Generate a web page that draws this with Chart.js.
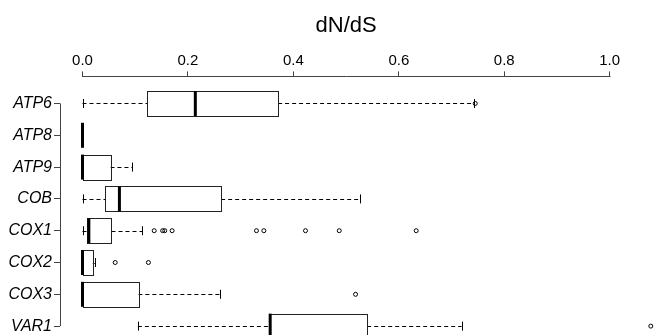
<!DOCTYPE html>
<html>
<head>
<meta charset="utf-8">
<script src="https://cdn.jsdelivr.net/npm/chart.js@4.4.1/dist/chart.umd.min.js"></script>
<style>
  html, body { margin: 0; padding: 0; background: #fff; overflow: hidden; }
  #wrap { width: 659px; height: 335px; overflow: hidden; }
</style>
</head>
<body>
<div id="wrap"><canvas id="c" width="659" height="360"></canvas></div>
<script>
// ---- data ----
const categories  = ['ATP6', 'ATP8', 'ATP9', 'COB', 'COX1', 'COX2', 'COX3', 'VAR1'];
const whiskerLow  = [0.000, 0.000, 0.000, 0.000, 0.000, 0.000, 0.000, 0.105];
const q1          = [0.123, 0.000, 0.000, 0.043, 0.009, 0.000, 0.000, 0.354];
const medians     = [0.214, 0.000, 0.000, 0.070, 0.012, 0.000, 0.000, 0.356];
const q3          = [0.371, 0.000, 0.053, 0.263, 0.055, 0.019, 0.106, 0.540];
const whiskerHigh = [0.743, 0.000, 0.094, 0.527, 0.113, 0.023, 0.260, 0.719];
const outliersATP6 = [0.745];
const outliersCOX1 = [0.136, 0.152, 0.156, 0.170, 0.330, 0.344, 0.423, 0.487, 0.633];
const outliersCOX2 = [0.062, 0.125];
const outliersCOX3 = [0.518];
const outliersVAR1 = [1.078];
const xTicks = [0.0, 0.2, 0.4, 0.6, 0.8, 1.0];
const axisTitle = 'dN/dS';

// ---- build scatter data for outliers ----
const outlierSets = {ATP6: outliersATP6, COX1: outliersCOX1, COX2: outliersCOX2, COX3: outliersCOX3, VAR1: outliersVAR1};
const outlierPoints = [];
categories.forEach((c, i) => {
  (outlierSets[c] || []).forEach(v => outlierPoints.push({x: v, y: i + 1}));
});

const FONT = '"Liberation Sans", Arial, Helvetica, sans-serif';
const BOX_HALF = 12.5;
const CAP_HALF = 4.5;

const boxPlugin = {
  id: 'boxes',
  beforeDatasetsDraw(chart) {
    const ctx = chart.ctx;
    const xs = chart.scales.x, ys = chart.scales.y;
    const ca = chart.chartArea;
    ctx.save();
    // axis lines (R style: from first to last tick)
    ctx.strokeStyle = '#444';
    ctx.lineWidth = 1;
    ctx.beginPath();
    ctx.moveTo(Math.round(xs.getPixelForValue(xTicks[0])) - 0.5, Math.round(ca.top) - 0.5);
    ctx.lineTo(Math.round(xs.getPixelForValue(xTicks[xTicks.length - 1])) + 0.5, Math.round(ca.top) - 0.5);
    ctx.stroke();
    ctx.beginPath();
    ctx.moveTo(Math.round(ca.left) + 0.5, ys.getPixelForValue(1));
    ctx.lineTo(Math.round(ca.left) + 0.5, ys.getPixelForValue(categories.length));
    ctx.stroke();

    categories.forEach((c, i) => {
      const y = ys.getPixelForValue(i + 1);
      const xl = xs.getPixelForValue(whiskerLow[i]);
      const x1 = xs.getPixelForValue(q1[i]);
      const xm = xs.getPixelForValue(medians[i]);
      const x3 = xs.getPixelForValue(q3[i]);
      const xh = xs.getPixelForValue(whiskerHigh[i]);
      const yy = Math.round(y) + 0.5;
      // whiskers
      ctx.strokeStyle = '#000';
      ctx.lineWidth = 1;
      ctx.setLineDash([4, 3]);
      if (x1 - xl > 0.5) { ctx.beginPath(); ctx.moveTo(xl, yy); ctx.lineTo(x1, yy); ctx.stroke(); }
      if (xh - x3 > 0.5) { ctx.beginPath(); ctx.moveTo(x3, yy); ctx.lineTo(xh, yy); ctx.stroke(); }
      ctx.setLineDash([]);
      // caps
      if (xh - xl > 0.5) {
        [xl, xh].forEach(x => {
          ctx.beginPath();
          ctx.moveTo(Math.round(x) + 0.5, y - CAP_HALF);
          ctx.lineTo(Math.round(x) + 0.5, y + CAP_HALF);
          ctx.stroke();
        });
      }
      // box
      if (x3 - x1 > 0.5) {
        ctx.fillStyle = '#fff';
        ctx.fillRect(x1, y - BOX_HALF, x3 - x1, BOX_HALF * 2);
        ctx.strokeStyle = '#222';
        ctx.strokeRect(Math.round(x1) + 0.5, Math.round(y - BOX_HALF) + 0.5, Math.round(x3 - x1), Math.round(BOX_HALF * 2));
      }
      // median
      ctx.strokeStyle = '#000';
      ctx.lineWidth = 3;
      ctx.beginPath();
      ctx.moveTo(xm, y - BOX_HALF);
      ctx.lineTo(xm, y + BOX_HALF);
      ctx.stroke();
    });
    ctx.restore();
  },
  afterDraw(chart) {
    const ctx = chart.ctx;
    const xs = chart.scales.x;
    ctx.save();
    ctx.fillStyle = '#000';
    ctx.font = '22px ' + FONT;
    ctx.textAlign = 'center';
    ctx.textBaseline = 'alphabetic';
    const cx = (xs.getPixelForValue(xTicks[0]) + xs.getPixelForValue(xTicks[xTicks.length - 1])) / 2;
    ctx.fillText(axisTitle, cx, 32);
    ctx.restore();
  }
};

new Chart(document.getElementById('c'), {
  type: 'scatter',
  data: {
    datasets: [{
      data: outlierPoints,
      pointRadius: 2,
      pointBorderWidth: 1,
      borderColor: '#000',
      backgroundColor: 'rgba(0,0,0,0)',
      pointStyle: 'circle',
      clip: false
    }]
  },
  options: {
    responsive: false,
    animation: false,
    layout: { padding: { top: 0, left: 0, right: 0, bottom: 7.8 } },
    plugins: { legend: { display: false }, tooltip: { enabled: false }, title: { display: false } },
    scales: {
      x: {
        type: 'linear',
        position: 'top',
        min: -0.0427,
        max: 1.0841,
        afterBuildTicks: s => { s.ticks = xTicks.map(v => ({value: v})); },
        afterFit: s => { s.height = 77.4; s.paddingLeft = 0; s.paddingRight = 0; s.paddingTop = 0; s.paddingBottom = 0; },
        ticks: {
          callback: v => Number(v).toFixed(1),
          color: '#000',
          font: { family: FONT, size: 15 },
          padding: 1.5,
          maxRotation: 0,
          autoSkip: false
        },
        grid: { drawOnChartArea: false, drawTicks: true, tickLength: 6, color: '#444', tickColor: '#444' },
        border: { display: false }
      },
      y: {
        type: 'linear',
        reverse: true,
        min: 0.18,
        max: 8.82,
        afterBuildTicks: s => { s.ticks = categories.map((_, i) => ({value: i + 1})); },
        afterFit: s => { s.width = 60; s.paddingLeft = 0; s.paddingRight = 0; s.paddingTop = 0; s.paddingBottom = 0; },
        ticks: {
          callback: v => categories[Math.round(v) - 1] || '',
          color: '#000',
          font: { family: FONT, size: 16, style: 'italic' },
          padding: 2,
          autoSkip: false
        },
        grid: { drawOnChartArea: false, drawTicks: true, tickLength: 6, color: '#444', tickColor: '#444' },
        border: { display: false }
      }
    }
  },
  plugins: [boxPlugin]
});
</script>
</body>
</html>
